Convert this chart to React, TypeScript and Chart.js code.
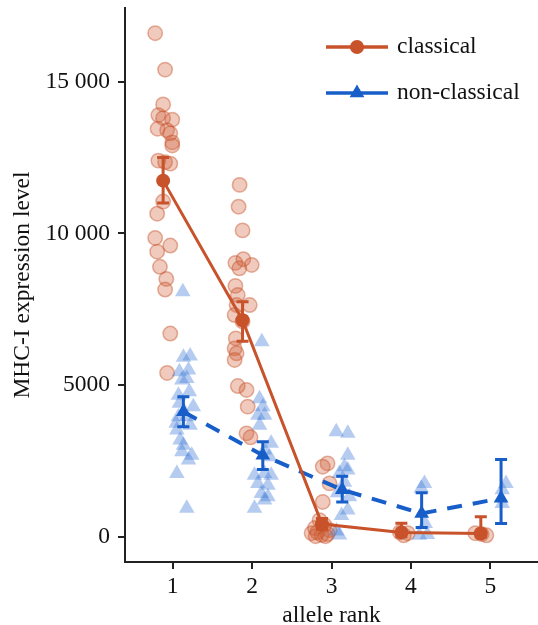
import React, { useEffect, useRef } from "react";
import { Chart, registerables } from "chart.js";

Chart.register(...registerables);

const FONT = '"Liberation Serif", "Times New Roman", serif';
const FONT_SIZE = 23.5;

// ---- data ----
const ranks = [1, 2, 3, 4, 5];
const xTickValues = [1, 2, 3, 4, 5];
const yTickValues = [0, 5000, 10000, 15000];
const yTickLabels = ["0", "5000", "10 000", "15 000"];

const classicalOffset = -0.12;
const nonClassicalOffset = 0.135;

const classicalMean = [11740, 7140, 420, 145, 110];
const classicalLow = [11000, 6450, 250, 0, 0];
const classicalHigh = [12500, 7750, 600, 450, 660];

const nonClassicalMean = [4120, 2690, 1550, 770, 1270];
const nonClassicalLow = [3630, 2220, 1150, 310, 440];
const nonClassicalHigh = [4620, 3130, 2000, 1450, 2550];

// individual alleles (jittered x, expression level)
const classicalPointsX = [
  0.78, 0.905, 0.88, 0.82, 0.88, 0.995, 0.81, 0.93, 0.97, 0.995, 0.995, 0.82, 0.905, 0.97, 0.88, 0.805, 0.78, 0.97, 0.805, 0.84, 0.92, 0.905, 0.97, 0.93,
  1.843, 1.83, 1.88, 1.79, 1.89, 1.84, 1.995, 1.79, 1.82, 1.805, 1.97, 1.78, 1.88, 1.795, 1.78, 1.805, 1.78, 1.82, 1.93, 1.945, 1.93, 1.98,
  2.95, 2.89, 2.975, 2.89, 2.85, 2.91, 2.79, 2.975, 2.82, 2.75, 2.875, 2.95, 2.8, 2.925,
  3.86, 3.96, 3.91,
  4.81, 4.89, 4.95,
];
const classicalPointsY = [
  16600, 15400, 14250, 13900, 13800, 13750, 13450, 13400, 13300, 13000, 12900, 12400, 12350, 12300, 11050, 10650, 9850, 9600, 9400, 8900, 8500, 8150, 6700, 5400,
  11600, 10880, 10100, 9030, 9150, 8850, 8960, 8270, 7970, 7640, 7640, 7310, 7100, 6540, 6210, 6050, 5830, 4970, 4840, 4290, 3410, 3280,
  2420, 2310, 1760, 1150, 550, 390, 290, 220, 150, 120, 60, 90, 20, 20,
  150, 120, 50,
  120, 90, 50,
];

const nonClassicalPointsX = [
  1.128, 1.136, 1.22, 1.085, 1.2, 1.178, 1.116, 1.073, 1.21, 1.085, 1.26, 1.073, 1.178, 1.044, 1.22, 1.053, 1.094, 1.136, 1.116, 1.24, 1.2, 1.053, 1.178,
  2.123, 2.136, 2.094, 2.073, 2.157, 2.094, 2.24, 2.157, 2.22, 2.03, 2.157, 2.24, 2.073, 2.2, 2.116, 2.2, 2.03, 2.157,
  3.06, 3.205, 3.205, 3.163, 3.205, 3.1, 3.226, 3.205, 3.1, 3.126, 3.063, 3.163, 3.075,
  4.17, 4.13, 4.18, 4.107, 4.207,
  5.197, 5.15, 5.15,
];
const nonClassicalPointsY = [
  8080, 5920, 5960, 5440, 5500, 5220, 5170, 4670, 4780, 4400, 4290, 3960, 3960, 3740, 3680, 3520, 3190, 3020, 2800, 2690, 2530, 2090, 940,
  6430, 4290, 4550, 4010, 4010, 3680, 3080, 2860, 2640, 2030, 2090, 2030, 1760, 1700, 1430, 1320, 940, 1210,
  3460, 3410, 2690, 2310, 2200, 2090, 1320, 880, 60, 700, 190, 1800, 1450,
  1760, 1600, 440, 50, 80,
  1760, 1550, 1100,
];

// ---- styles ----
const CLASSICAL = "rgb(200, 82, 42)";
const CLASSICAL_FILL = "rgba(205, 90, 50, 0.32)";
const CLASSICAL_EDGE = "rgba(200, 85, 45, 0.45)";
const NONCLASSICAL = "rgb(24, 94, 200)";
const NONCLASSICAL_FILL = "rgba(60, 120, 215, 0.38)";
const AXIS = "#222";
const TEXT = "#111";

function triangle(ctx: CanvasRenderingContext2D, x: number, y: number, r: number) {
  ctx.beginPath();
  ctx.moveTo(x, y - r);
  ctx.lineTo(x + Math.sin((2 * Math.PI) / 3) * r, y - Math.cos((2 * Math.PI) / 3) * r);
  ctx.lineTo(x + Math.sin((4 * Math.PI) / 3) * r, y - Math.cos((4 * Math.PI) / 3) * r);
  ctx.closePath();
}

const errorBarPlugin = {
  id: "errorBars",
  afterDatasetsDraw(chart: any) {
    const { ctx, scales } = chart;
    const xs = scales.x;
    const ys = scales.y;
    const drawSet = (offset: number, lows: number[], highs: number[], color: string) => {
      ctx.save();
      ctx.strokeStyle = color;
      ctx.lineWidth = 3;
      ctx.lineCap = "butt";
      ranks.forEach((r, i) => {
        const px = xs.getPixelForValue(r + offset);
        const pLow = ys.getPixelForValue(lows[i]);
        const pHigh = ys.getPixelForValue(highs[i]);
        const cap = 6;
        ctx.beginPath();
        ctx.moveTo(px, pLow);
        ctx.lineTo(px, pHigh);
        ctx.moveTo(px - cap, pLow);
        ctx.lineTo(px + cap, pLow);
        ctx.moveTo(px - cap, pHigh);
        ctx.lineTo(px + cap, pHigh);
        ctx.stroke();
      });
      ctx.restore();
    };
    drawSet(nonClassicalOffset, nonClassicalLow, nonClassicalHigh, NONCLASSICAL);
    drawSet(classicalOffset, classicalLow, classicalHigh, CLASSICAL);
  },
};

const legendPlugin = {
  id: "customLegend",
  afterDraw(chart: any) {
    const { ctx, chartArea } = chart;
    const x0 = chartArea.left + 201;
    const x1 = x0 + 62;
    const xm = (x0 + x1) / 2;
    const tx = x1 + 9;
    const rows = [
      { y: chartArea.top + 39, label: "classical", color: CLASSICAL, marker: "circle" },
      { y: chartArea.top + 85, label: "non-classical", color: NONCLASSICAL, marker: "triangle" },
    ];
    ctx.save();
    rows.forEach((row) => {
      ctx.strokeStyle = row.color;
      ctx.fillStyle = row.color;
      ctx.lineWidth = 3.5;
      ctx.beginPath();
      ctx.moveTo(x0, row.y);
      ctx.lineTo(x1, row.y);
      ctx.stroke();
      if (row.marker === "circle") {
        ctx.beginPath();
        ctx.arc(xm, row.y, 7, 0, Math.PI * 2);
        ctx.fill();
      } else {
        triangle(ctx, xm, row.y, 8.5);
        ctx.fill();
      }
      ctx.fillStyle = TEXT;
      ctx.font = `${FONT_SIZE}px ${FONT}`;
      ctx.textAlign = "left";
      ctx.textBaseline = "middle";
      ctx.fillText(row.label, tx, row.y);
    });
    ctx.restore();
  },
};

export default function App() {
  const ref = useRef<HTMLCanvasElement | null>(null);

  useEffect(() => {
    const canvas = ref.current;
    if (!canvas) return;
    const chart = new Chart(canvas, {
      type: "scatter",
      data: {
        datasets: [
          {
            label: "classical",
            data: ranks.map((r, i) => ({ x: r + classicalOffset, y: classicalMean[i] })),
            showLine: true,
            borderColor: CLASSICAL,
            backgroundColor: CLASSICAL,
            borderWidth: 3,
            pointRadius: 7,
            pointBorderWidth: 0,
            pointStyle: "circle",
            order: 1,
          },
          {
            label: "non-classical",
            data: ranks.map((r, i) => ({ x: r + nonClassicalOffset, y: nonClassicalMean[i] })),
            showLine: true,
            borderColor: NONCLASSICAL,
            backgroundColor: NONCLASSICAL,
            borderWidth: 4,
            borderDash: [15, 11],
            pointRadius: 8.5,
            pointBorderWidth: 0,
            pointStyle: "triangle",
            order: 2,
          },
          {
            label: "classical alleles",
            data: classicalPointsX.map((x, i) => ({ x, y: classicalPointsY[i] })),
            backgroundColor: CLASSICAL_FILL,
            borderColor: CLASSICAL_EDGE,
            borderWidth: 1.5,
            pointRadius: 7.2,
            pointStyle: "circle",
            order: 4,
          },
          {
            label: "non-classical alleles",
            data: nonClassicalPointsX.map((x, i) => ({ x, y: nonClassicalPointsY[i] })),
            backgroundColor: NONCLASSICAL_FILL,
            borderColor: "rgba(0,0,0,0)",
            borderWidth: 0,
            pointRadius: 9,
            pointStyle: "triangle",
            order: 3,
          },
        ],
      },
      options: {
        responsive: false,
        animation: false,
        devicePixelRatio: 1,
        layout: { autoPadding: false, padding: { top: 8, right: 0, left: 0, bottom: 0 } },
        plugins: {
          legend: { display: false },
          tooltip: { enabled: false },
        },
        scales: {
          x: {
            type: "linear",
            min: 0.4,
            max: 5.6,
            afterBuildTicks: (s: any) => {
              s.ticks = xTickValues.map((v) => ({ value: v }));
            },
            afterFit: (s: any) => {
              s.height = 63;
              s.paddingLeft = 0;
              s.paddingRight = 0;
            },
            grid: {
              display: true,
              drawOnChartArea: false,
              drawTicks: true,
              tickLength: 7,
              color: AXIS,
              lineWidth: 2,
            },
            border: { display: true, color: AXIS, width: 2 },
            ticks: {
              font: { family: FONT, size: FONT_SIZE },
              color: TEXT,
              padding: 4,
              maxRotation: 0,
              callback: (v: any) => String(v),
            },
            title: {
              display: true,
              text: "allele rank",
              color: TEXT,
              font: { family: FONT, size: FONT_SIZE, lineHeight: 1 },
              padding: { top: 0, bottom: -3 },
            },
          },
          y: {
            type: "linear",
            min: -830,
            max: 17430,
            afterBuildTicks: (s: any) => {
              s.ticks = yTickValues.map((v) => ({ value: v }));
            },
            afterFit: (s: any) => {
              s.width = 125;
              s.paddingTop = 0;
              s.paddingBottom = 0;
            },
            grid: {
              display: true,
              drawOnChartArea: false,
              drawTicks: true,
              tickLength: 7,
              color: AXIS,
              lineWidth: 2,
            },
            border: { display: true, color: AXIS, width: 2 },
            ticks: {
              font: { family: FONT, size: FONT_SIZE },
              color: TEXT,
              padding: 8,
              callback: (v: any) => {
                const idx = yTickValues.indexOf(Number(v));
                return idx >= 0 ? yTickLabels[idx] : "";
              },
            },
            title: {
              display: true,
              text: "MHC-I expression level",
              color: TEXT,
              font: { family: FONT, size: FONT_SIZE, lineHeight: 1 },
              padding: { top: 11, bottom: 0 },
            },
          },
        },
      },
      plugins: [errorBarPlugin, legendPlugin],
    } as any);
    return () => chart.destroy();
  }, []);

  return (
    <div style={{ position: "absolute", left: 0, top: 0, width: 538, height: 625, background: "#fff" }}>
      <canvas ref={ref} width={538} height={625} style={{ display: "block", width: 538, height: 625 }} />
    </div>
  );
}
